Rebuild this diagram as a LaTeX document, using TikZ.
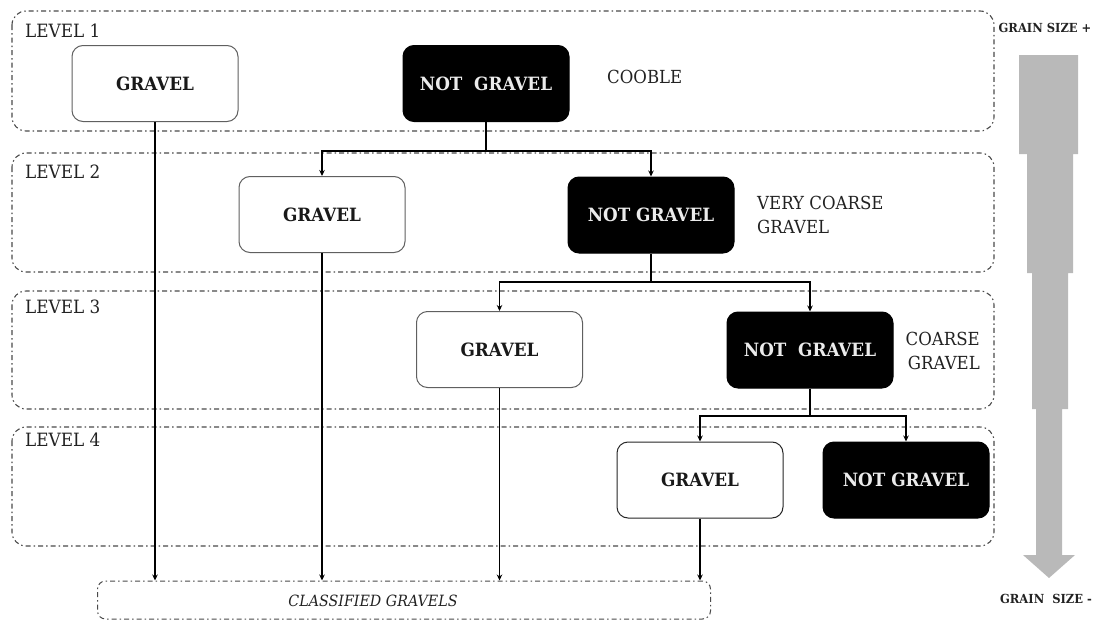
\documentclass[tikz,border=0pt]{standalone}
\usepackage{fontspec}
\setmainfont{DejaVu Serif}[FakeStretch=0.92]
\usetikzlibrary{arrows.meta}
\definecolor{txt}{HTML}{222222}
\definecolor{lvl}{HTML}{4A4A4A}
\definecolor{grain}{HTML}{B9B9B9}
\tikzset{
  levelbox/.style={draw=lvl, line width=1.1pt, dash pattern=on 5pt off 3pt on 1.5pt off 3pt, rounded corners=14pt},
  lvllabel/.style={anchor=west, text=txt, font=\fontsize{18.3}{21}\selectfont, inner sep=0pt},
  sidelabel/.style={text=txt, font=\fontsize{18}{24}\selectfont, inner sep=0pt, align=left},
  gbox/.style={draw=gray!75!black, line width=1pt, fill=white, rounded corners=11pt, minimum width=166pt, minimum height=76pt, text=black!90, font=\bfseries\fontsize{18.3}{21}\selectfont, inner sep=0pt},
  ngbox/.style={gbox, draw=black, fill=black, text=white!92!black},
  conn/.style={line width=1.5pt, black},
  arr/.style={conn, -{Stealth[length=6pt,width=5.5pt]}},
  clsbox/.style={draw=lvl, line width=1pt, dash pattern=on 5pt off 3pt on 1.5pt off 3pt, rounded corners=8pt, minimum width=613pt, minimum height=38pt, inner sep=0pt},
  clslabel/.style={text=txt, font=\itshape\fontsize{15.5}{18}\selectfont, inner sep=0pt},
  grainlabel/.style={text=txt, font=\bfseries\fontsize{12.5}{15}\selectfont, inner sep=0pt}
}
\begin{document}
\begin{tikzpicture}[x=1pt,y=-1pt]
\useasboundingbox (0,0) rectangle (1112,621);
% level containers
\draw[levelbox] (12,11) rectangle (994,131);
\draw[levelbox] (12,153) rectangle (994,272);
\draw[levelbox] (12,291) rectangle (994,409);
\draw[levelbox] (12,427) rectangle (994,546);
\node[lvllabel] (l1) at (25,31) {LEVEL 1};
\node[lvllabel] (l2) at (25,172) {LEVEL 2};
\node[lvllabel] (l3) at (25,307) {LEVEL 3};
\node[lvllabel] (l4) at (25,440) {LEVEL 4};
% level 1
\node[gbox] (g1) at (155,83.5) {GRAVEL};
\node[ngbox] (n1) at (486,83.5) {NOT\ \ GRAVEL};
\node[sidelabel, anchor=west] (t1) at (607,77) {COOBLE};
% level 2
\node[gbox] (g2) at (322,214.5) {GRAVEL};
\node[ngbox] (n2) at (651,215) {NOT GRAVEL};
\node[sidelabel, anchor=west] (t2) at (757,214.5) {VERY COARSE\\GRAVEL};
% level 3
\node[gbox] (g3) at (499.5,349.5) {GRAVEL};
\node[ngbox] (n3) at (810,350) {NOT\ \ GRAVEL};
\node[sidelabel, anchor=east, align=right] (t3) at (980,350.5) {COARSE\\GRAVEL};
% level 4
\node[gbox, draw=black!85] (g4) at (700,480) {GRAVEL};
\node[ngbox] (n4) at (906,480) {NOT GRAVEL};
% classified
\node[clsbox] (cls) at (404,600) {};
\node[clslabel] (clst) at (373,601) {CLASSIFIED GRAVELS};
% tree connectors
\coordinate (j1) at (486,151);
\coordinate (j2) at (651,282);
\coordinate (j3) at (810,416);
\draw[conn] (n1.south) -- (j1);
\draw[arr] (j1) -| (g2.north);
\draw[arr] (j1) -| (n2.north);
\draw[conn] (n2.south) -- (j2);
\draw[arr] (j2) -| (g3.north);
\draw[arr] (j2) -| (n3.north);
\draw[conn] (n3.south) -- (j3);
\draw[arr] (j3) -| (g4.north);
\draw[arr] (j3) -| (n4.north);
% to classified gravels
\draw[arr] (g1.south) -- (g1.south |- cls.north);
\draw[arr] (g2.south) -- (g2.south |- cls.north);
\draw[arr] (g3.south) -- (g3.south |- cls.north);
\draw[arr] (g4.south) -- (g4.south |- cls.north);
% grain size arrow
\fill[grain] (1019,55) -- (1078,55) -- (1078,154) -- (1073,154) -- (1073,273) -- (1068,273) -- (1068,409) -- (1062,409) -- (1062,555) -- (1075,555) -- (1049,578) -- (1023,555) -- (1036,555) -- (1036,409) -- (1032,409) -- (1032,273) -- (1027,273) -- (1027,154) -- (1019,154) -- cycle;
\node[grainlabel] (gp) at (1045,28) {GRAIN SIZE +};
\node[grainlabel] (gm) at (1046,599) {GRAIN\ \ SIZE -};
\end{tikzpicture}
\end{document}
